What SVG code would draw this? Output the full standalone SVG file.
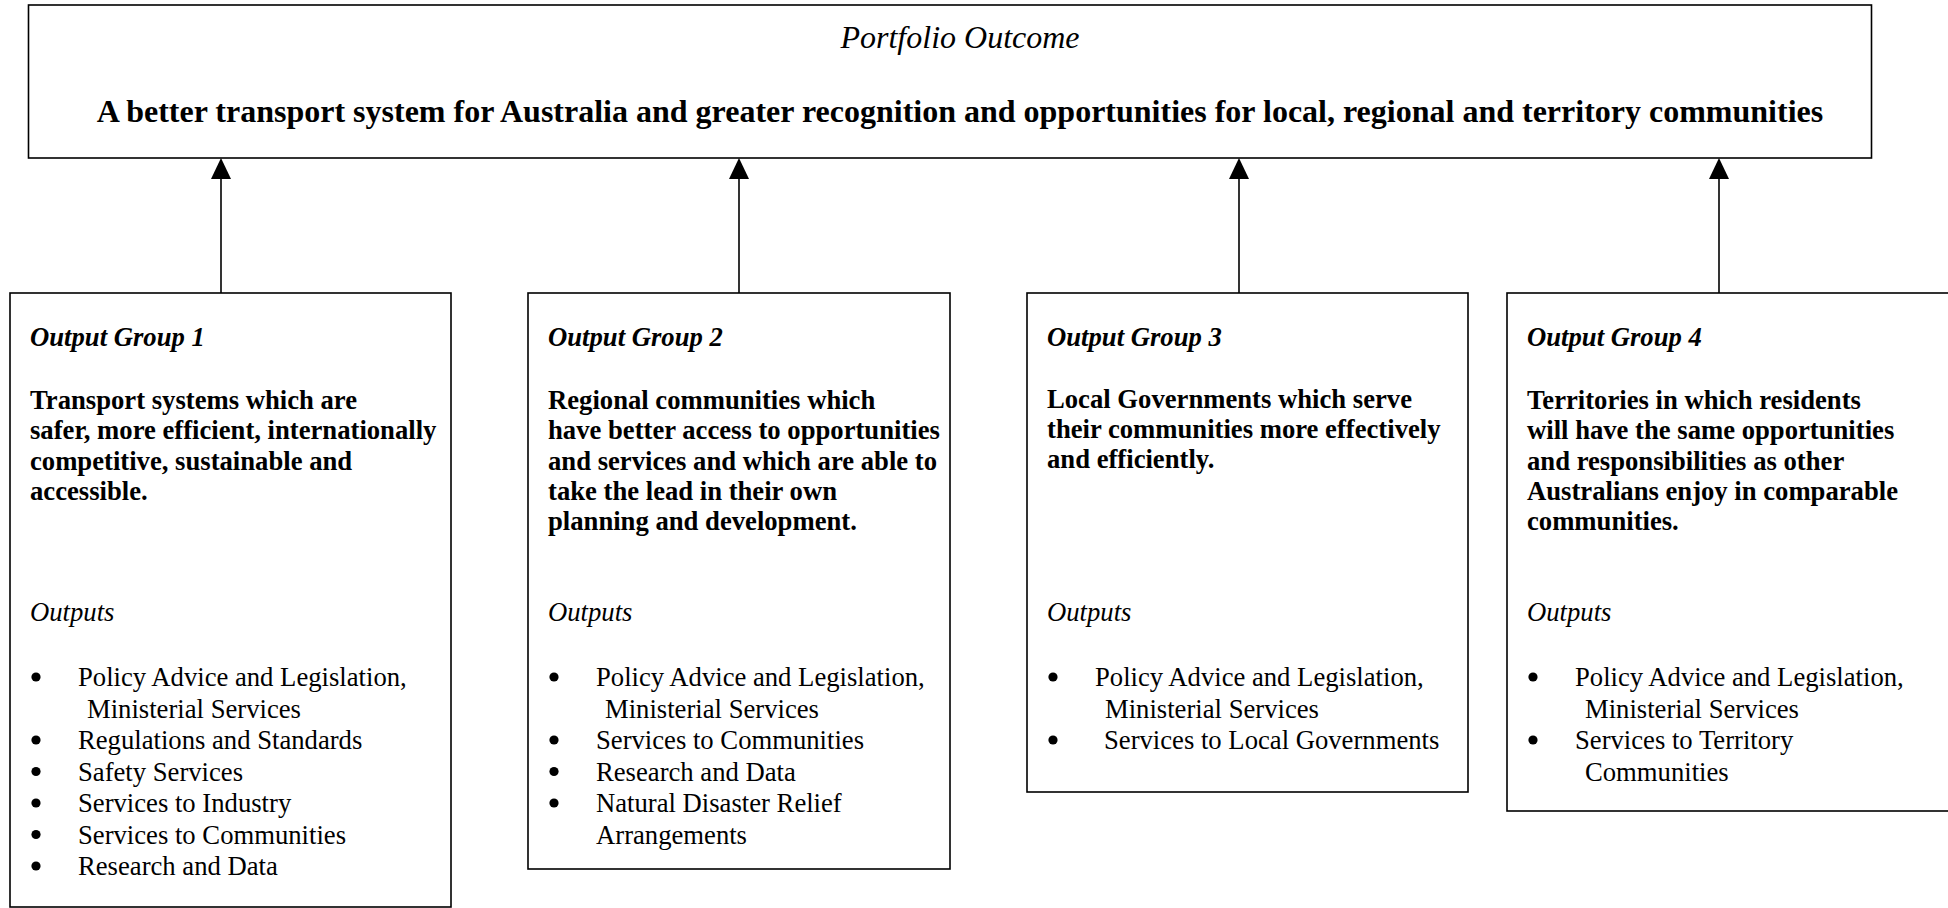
<svg xmlns="http://www.w3.org/2000/svg" width="1948" height="908" viewBox="0 0 1948 908">
<style>
.box{fill:#fff;stroke:#000;stroke-width:1.6}
.t{font-family:"Liberation Serif","Times New Roman",serif;font-size:26.67px;fill:#000}
.gi{font-weight:bold;font-style:italic}
.b{font-weight:bold}
.i{font-style:italic}
.dot{fill:#000}
.conn{stroke:#000;stroke-width:1.6;fill:none}
</style>
<defs>
<circle id="bul" class="dot" cx="0" cy="0" r="4.6"/>
</defs>
<rect width="1948" height="908" fill="#fff"/>

<g id="portfolio">
<rect class="box" x="28.5" y="5" width="1843" height="153"/>
<text class="t i" x="960" y="48" text-anchor="middle" style="font-size:32px">Portfolio Outcome</text>
<text class="t b" x="960" y="122" text-anchor="middle" style="font-size:32px">A better transport system for Australia and greater recognition and opportunities for local, regional and territory communities</text>
</g>

<g id="connectors">
<path class="conn" d="M221,293 V178" />
<path d="M211,179 L221,158 L231,179 Z" fill="#000"/>
<path class="conn" d="M739,293 V178" />
<path d="M729,179 L739,158 L749,179 Z" fill="#000"/>
<path class="conn" d="M1239,293 V178" />
<path d="M1229,179 L1239,158 L1249,179 Z" fill="#000"/>
<path class="conn" d="M1719,293 V178" />
<path d="M1709,179 L1719,158 L1729,179 Z" fill="#000"/>
</g>

<g id="group1">
<rect class="box" x="10" y="293" width="441" height="614"/>
<text class="t gi" x="30" y="346">Output Group 1</text>
<text class="t b" x="30" y="409">Transport systems which are</text>
<text class="t b" x="30" y="439">safer, more efficient, internationally</text>
<text class="t b" x="30" y="470">competitive, sustainable and</text>
<text class="t b" x="30" y="500">accessible.</text>
<text class="t i" x="30" y="621">Outputs</text>
<use href="#bul" x="36" y="677"/>
<text class="t" x="78" y="686">Policy Advice and Legislation,</text>
<text class="t" x="87" y="717.5">Ministerial Services</text>
<use href="#bul" x="36" y="740"/>
<text class="t" x="78" y="749">Regulations and Standards</text>
<use href="#bul" x="36" y="771.5"/>
<text class="t" x="78" y="780.5">Safety Services</text>
<use href="#bul" x="36" y="803"/>
<text class="t" x="78" y="812">Services to Industry</text>
<use href="#bul" x="36" y="834.5"/>
<text class="t" x="78" y="843.5">Services to Communities</text>
<use href="#bul" x="36" y="866"/>
<text class="t" x="78" y="875">Research and Data</text>
</g>

<g id="group2">
<rect class="box" x="528" y="293" width="422" height="576"/>
<text class="t gi" x="548" y="346">Output Group 2</text>
<text class="t b" x="548" y="409">Regional communities which</text>
<text class="t b" x="548" y="439">have better access to opportunities</text>
<text class="t b" x="548" y="470">and services and which are able to</text>
<text class="t b" x="548" y="500">take the lead in their own</text>
<text class="t b" x="548" y="530">planning and development.</text>
<text class="t i" x="548" y="621">Outputs</text>
<use href="#bul" x="554" y="677"/>
<text class="t" x="596" y="686">Policy Advice and Legislation,</text>
<text class="t" x="605" y="717.5">Ministerial Services</text>
<use href="#bul" x="554" y="740"/>
<text class="t" x="596" y="749">Services to Communities</text>
<use href="#bul" x="554" y="771.5"/>
<text class="t" x="596" y="780.5">Research and Data</text>
<use href="#bul" x="554" y="803"/>
<text class="t" x="596" y="812">Natural Disaster Relief</text>
<text class="t" x="596" y="843.5">Arrangements</text>
</g>

<g id="group3">
<rect class="box" x="1027" y="293" width="441" height="499"/>
<text class="t gi" x="1047" y="346">Output Group 3</text>
<text class="t b" x="1047" y="408">Local Governments which serve</text>
<text class="t b" x="1047" y="438">their communities more effectively</text>
<text class="t b" x="1047" y="468">and efficiently.</text>
<text class="t i" x="1047" y="621">Outputs</text>
<use href="#bul" x="1053" y="677"/>
<text class="t" x="1095" y="686">Policy Advice and Legislation,</text>
<text class="t" x="1105" y="717.5">Ministerial Services</text>
<use href="#bul" x="1053" y="740"/>
<text class="t" x="1104" y="749">Services to Local Governments</text>
</g>

<g id="group4">
<rect class="box" x="1507" y="293" width="460" height="518"/>
<text class="t gi" x="1527" y="346">Output Group 4</text>
<text class="t b" x="1527" y="409">Territories in which residents</text>
<text class="t b" x="1527" y="439">will have the same opportunities</text>
<text class="t b" x="1527" y="470">and responsibilities as other</text>
<text class="t b" x="1527" y="500">Australians enjoy in comparable</text>
<text class="t b" x="1527" y="530">communities.</text>
<text class="t i" x="1527" y="621">Outputs</text>
<use href="#bul" x="1533" y="677"/>
<text class="t" x="1575" y="686">Policy Advice and Legislation,</text>
<text class="t" x="1585" y="717.5">Ministerial Services</text>
<use href="#bul" x="1533" y="740"/>
<text class="t" x="1575" y="749">Services to Territory</text>
<text class="t" x="1585" y="780.5">Communities</text>
</g>
</svg>
